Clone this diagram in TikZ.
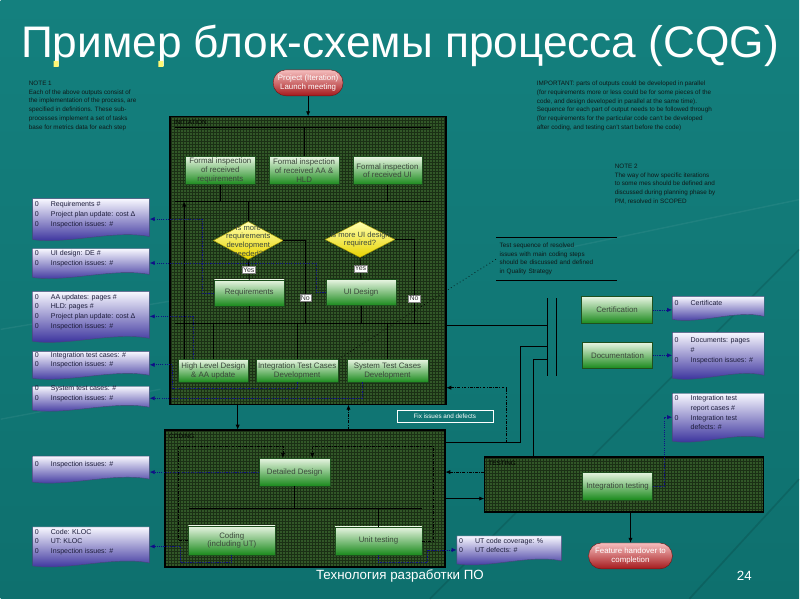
\documentclass[tikz,border=0pt]{standalone}
\usepackage{fontspec}
\setmainfont{Liberation Sans}
\usetikzlibrary{arrows.meta,shapes.geometric,calc}
\definecolor{bgtop}{RGB}{20,128,126}
\definecolor{bgbot}{RGB}{14,112,110}
\definecolor{phfill}{RGB}{50,88,40}
\definecolor{gtop}{RGB}{232,245,226}
\definecolor{gbot}{RGB}{26,138,28}
\definecolor{gline}{RGB}{30,80,30}
\definecolor{gtext}{RGB}{60,72,60}
\definecolor{ptop}{RGB}{246,190,190}
\definecolor{pbot}{RGB}{165,25,28}
\definecolor{pline}{RGB}{110,20,20}
\definecolor{dtop}{RGB}{248,248,255}
\definecolor{dmid}{RGB}{180,180,232}
\definecolor{dbot}{RGB}{45,36,150}
\definecolor{dline}{RGB}{70,70,120}
\definecolor{dtxt}{RGB}{30,30,60}
\definecolor{ytop}{RGB}{255,255,175}
\definecolor{ybot}{RGB}{232,212,0}
\definecolor{ydraw}{RGB}{150,140,0}
\definecolor{navyc}{RGB}{15,15,135}
\definecolor{notec}{RGB}{15,25,25}
\tikzset{
  wh/.style 2 args={minimum width={(#1)*0.025cm},minimum height={(#2)*0.025cm}},
  gbox/.style={rectangle,draw=gline,line width=.3pt,top color=gtop,bottom color=gbot,text=gtext,font=\fontsize{5.6}{6.3}\selectfont,align=center,inner sep=1pt},
  pill/.style={rectangle,rounded corners=.32cm,draw=pline,line width=.3pt,top color=ptop,bottom color=pbot,text=white,font=\fontsize{5.6}{6.6}\selectfont,align=center,inner sep=1pt},
  phase/.style={rectangle,draw=black,line width=.8pt,fill=phfill,inner sep=0},
  phlabel/.style={font=\fontsize{4.5}{5}\selectfont,text=black,inner sep=0,anchor=north west},
  barn/.style={inner sep=0,minimum height=0pt},
  barl/.style={draw=black,line width=.7pt},
  flow/.style={draw=black,line width=.55pt},
  arr/.style={-{Latex[length=3.5pt,width=3pt]}},
  dd/.style={draw=black,line width=.5pt,dash pattern=on 2pt off 1pt on .5pt off 1pt},
  nav/.style={draw=navyc,line width=.5pt,dash pattern=on .8pt off .8pt,-{Latex[length=3.5pt,width=3pt]}},
  yn/.style={fill=white,draw=gray,line width=.2pt,font=\fontsize{5}{5}\selectfont,inner sep=.8pt,text=black!80},
  doctext/.style={font=\fontsize{5}{6.9}\selectfont,align=left,inner sep=0,text=dtxt},
  note/.style={font=\fontsize{4.5}{6.2}\selectfont,align=left,inner sep=0,text=notec},
  dtxt2/.style={font=\fontsize{5.4}{6.2}\selectfont,align=center,text=gtext,inner sep=0}
}
\newcommand\itm[1]{\makebox[11.4pt][l]{0}#1}
\newcommand\docbox[6]{%
  \shadedraw[top color=dtop,middle color=dmid,bottom color=dbot,draw=dline,line width=.3pt]
    (#2,#3) -- (#4,#3) -- (#4,#5-3) .. controls ({#4-0.3*(#4-#2)},{#5-10}) and ({#2+0.3*(#4-#2)},{#5+5}) .. (#2,#5) -- cycle;
  \node[inner sep=0,wh={#4-#2}{#5-#3}] (#1) at ({(#2+#4)/2},{(#3+#5)/2}) {};
  \node[doctext,anchor=west] (#1t) at ({#2+2},{(#3+#5-9)/2}) {#6};
}
\begin{document}
\begin{tikzpicture}[x=0.025cm,y=-0.025cm]
% background
\shade[top color=bgtop,bottom color=bgbot] (0,0) rectangle (800,600);
\draw[black,opacity=.12,line width=1.2pt] (590,460) -- (800,250) (690,600) -- (800,480) (430,600) -- (560,470);
\draw[white,opacity=.06,line width=1pt] (0,330) -- (180,300) (0,420) -- (160,390) (560,250) -- (800,200);
% title and footer
\node[font=\fontsize{31.5}{36}\selectfont,text=white] (title) at (400,46) {Пример блок-схемы процесса (CQG)};
\fill[yellow!55] (53,61) rectangle (58,67) (158,61) rectangle (163,67);
\node[font=\fontsize{9.5}{11}\selectfont,text=white] (foot) at (400,577) {Технология разработки ПО};
\node[font=\fontsize{9.5}{11}\selectfont,text=white] (pgnum) at (745,577) {24};
% notes
\node[note,anchor=north west] (note1) at (28,81) {NOTE 1\\Each of the above outputs consist of\\the implementation of the process, are\\specified in definitions. These sub-\\processes implement a set of tasks\\base for metrics data for each step};
\node[note,anchor=north west] (noteimp) at (537,81) {IMPORTANT: parts of outputs could be developed in parallel\\(for requirements more or less could be for some pieces of the\\code, and design developed in parallel at the same time).\\Sequence for each part of output needs to be followed through\\(for requirements for the particular code can't be developed\\after coding, and testing can't start before the code)};
\node[note,anchor=north west] (note2) at (615,164) {NOTE 2\\The way of how specific iterations\\to some mes should be defined and\\discussed during planning phase by\\PM, resolved in SCOPED};
\node[note,text width=2.85cm,inner xsep=0.075cm,minimum height=1.075cm] (note3) at (557,259.5) {Test sequence of resolved\\issues with main coding steps\\should be discussed and defined\\in Quality Strategy};
\draw[black,line width=.5pt] (note3.north west) -- (note3.north east) (note3.south west) -- (note3.south east);
% phases
\node[phase,wh={276}{288}] (ph1) at (308,261) {};
\node[phase,wh={280}{137}] (ph2) at (305,499.5) {};
\node[phase,wh={279}{55}] (tst) at (624.5,485.5) {};
\foreach \p in {ph1,ph2,tst}{
  \draw[black,opacity=.45,line width=.2pt,step=0.075cm] (\p.north west) grid (\p.south east);
  \draw[black,line width=.8pt] (\p.north west) rectangle (\p.south east);
}
\node[phlabel] (ph1l) at ($(ph1.north west)+(4,4)$) {INITIATION};
\node[phlabel] (ph2l) at ($(ph2.north west)+(4,4)$) {CODING};
\node[phlabel] (tstl) at ($(tst.north west)+(4,4)$) {TESTING};
% pills
\node[pill,wh={70}{26}] (launch) at (308,83) {Project (Iteration)\\Launch meeting};
\node[pill,wh={84}{26}] (feature) at (631,557) {Feature handover to\\completion};
% bars
\node[barn,wh={256}{0}] (b0) at (303,128) {};
\node[barn,wh={256}{0}] (b1) at (303,202) {};
\node[barn,wh={255}{0}] (b2) at (302.5,324) {};
\node[barn,wh={233}{0}] (b3) at (305.5,509) {};
\foreach \b in {b0,b1,b2,b3}{\draw[barl] (\b.west) -- (\b.east);}
\node[inner sep=0,wh={9}{77}] (fork) at (552.5,337.5) {};
\draw[flow,line width=.7pt] (fork.north west) -- (fork.south west) (fork.north east) -- (fork.south east);
% boxes phase 1
\node[gbox,wh={70}{28}] (insp1) at (220,171) {Formal inspection\\of received\\requirements};
\node[gbox,wh={70}{28}] (insp2) at (304,171) {Formal inspection\\of received AA \&\\HLD};
\node[gbox,wh={69}{28}] (insp3) at (387.5,171) {Formal inspection\\of received UI};
\node[diamond,draw=ydraw,line width=.3pt,top color=ytop,bottom color=ybot,wh={70}{38},inner sep=0] (d1) at (248,241) {};
\node[dtxt2] (d1t) at (d1) {Is more\\requirements\\development\\needed?};
\node[diamond,draw=ydraw,line width=.3pt,top color=ytop,bottom color=ybot,wh={70}{36},inner sep=0] (d2) at (360,240) {};
\node[dtxt2] (d2t) at (d2) {Is more UI design\\required?};
\node[gbox,wh={70}{26}] (req) at (249,293.5) {Requirements};
\node[gbox,wh={70}{26}] (ui) at (361,293) {UI Design};
\node[gbox,wh={70}{23}] (hld) at (213,371.5) {High Level Design\\\& AA update};
\node[gbox,wh={82}{23}] (itc) at (297,371.5) {Integration Test Cases\\Development};
\node[gbox,wh={81}{23}] (stc) at (387.5,371.5) {System Test Cases\\Development};
% boxes phase 2 and testing
\node[gbox,wh={71}{28}] (dd) at (294.5,473) {Detailed Design};
\node[gbox,wh={87}{29}] (coding) at (231.5,541.5) {Coding\\(including UT)};
\node[gbox,wh={87}{28}] (ut) at (378.5,542) {Unit testing};
\node[gbox,wh={70}{28}] (integ) at (618,487) {Integration testing};
\node[gbox,wh={71}{27}] (cert) at (617.5,310.5) {Certification};
\node[gbox,wh={70}{26}] (docu) at (618,356) {Documentation};
% documents
\docbox{doc1}{32}{199}{149}{240}{\itm{Requirements \#}\\\itm{Project plan update: cost Δ}\\\itm{Inspection issues: \#}}
\docbox{doc2}{32}{249}{149}{278}{\itm{UI design: DE \#}\\\itm{Inspection issues: \#}}
\docbox{doc3}{32}{292}{149}{342}{\itm{AA updates: pages \#}\\\itm{HLD: pages \#}\\\itm{Project plan update: cost Δ}\\\itm{Inspection issues: \#}}
\docbox{doc4}{32}{352}{149}{379}{\itm{Integration test cases: \#}\\\itm{Inspection issues: \#}}
\docbox{doc5}{32}{387}{149}{411}{\itm{System test cases: \#}\\\itm{Inspection issues: \#}}
\docbox{doc6}{32}{457}{149}{483}{\itm{Inspection issues: \#}}
\docbox{doc7}{32}{528}{149}{567}{\itm{Code: KLOC}\\\itm{UT: KLOC}\\\itm{Inspection issues: \#}}
\docbox{utdoc}{457}{537}{562}{565}{\itm{UT code coverage: \%}\\\itm{UT defects: \#}}
\docbox{certdoc}{673}{297}{765}{320}{\itm{Certificate}}
\docbox{docdoc}{673}{333}{765}{379}{\itm{Documents: pages}\\\hspace*{11.4pt}\#\\\itm{Inspection issues: \#}}
\docbox{idoc}{673}{394}{765}{442}{\itm{Integration test}\\\hspace*{11.4pt}report cases \#\\\itm{Integration test}\\\hspace*{11.4pt}defects: \#}
% fix label
\node[draw=white!60,line width=.3pt,wh={96}{12},font=\fontsize{4.5}{5}\selectfont,text=white!75,inner sep=1pt] (fix) at (445,417) {Fix issues and defects};
% phase 1 flow
\draw[flow,arr] (launch.south) -- (ph1.north);
\draw[flow] (b0.center -| insp2.north) -- (insp2.north);
\draw[flow] (insp1.south) -- (insp1.south |- b1.center);
\draw[flow] (insp3.south) -- (insp3.south |- b1.center);
\draw[flow] (b1.center -| d1.north) -- (d1.north);
\draw[flow] (d1.south) -- node[yn]{Yes} (req.north);
\draw[flow] (d2.south) -- node[yn]{Yes} (ui.north);
\draw[flow] (d1.east) -- ++(22,0) coordinate (n1) -- (n1 |- b2.center) node[yn,pos=.69]{No};
\draw[flow] (d2.east) -- ++(19,0) coordinate (n2) -- (n2 |- b2.center) node[yn,pos=.7]{No};
\draw[flow] (req.south) -- (req.south |- b2.center);
\draw[flow] (ui.south) -- (ui.south |- b2.center);
\draw[flow] (b2.center -| hld.north) -- (hld.north);
\draw[flow] (b2.center -| itc.north) -- (itc.north);
\draw[flow] (b2.center -| stc.north) -- (stc.north);
\draw[flow,arr] ($(hld.north west)+(6,0)$) coordinate (hb) -- (hb |- b1.center);
% phase 1 outputs
\draw[nav] (req.west) -- ++(-12,0) |- (doc1.east);
\draw[nav] (ui.west) -- ++(-10,0) |- (doc2.east);
\draw[nav] ($(hld.north west)+(15,0)$) |- (doc3.east);
\draw[nav] (itc.south) |- ($(doc4.east)+(23,24)$) |- (doc4.east);
\draw[nav] ($(stc.south)+(-25,0)$) |- (doc5.east);
\draw[black,dotted,line width=.5pt] (itc.north east) -- (note3.west);
% between phases
\draw[flow,arr] ($(ph1.south west)+(68,0)$) coordinate (pa) -- (pa |- ph2.north);
\draw[dd,arr] ($(ph2.north west)+(184,0)$) coordinate (pb) -- (pb |- ph1.south);
\draw[flow] ($(ph1.north east)+(0,210)$) coordinate (f1) -- (f1 -| fork.west);
\draw[flow] ($(fork.north west)+(0,61)$) -- ++(-14,0) coordinate (f3) -- (f3 |- tst.north);
\draw[flow] ($(ph2.north east)+(0,13)$) -- ++(75,0) |- ($(fork.north west)+(0,48)$);
\draw[dd,arr] ($(ph2.north east)+(61,13)$) |- ($(ph1.north east)+(0,272)$);
\draw[dd,arr] (tst.west |- dd) -- (ph2.east |- dd);
\draw[flow,arr] (ph2.east) -- (ph2.east -| tst.west);
\draw[flow,arr] (tst.south -| feature.north) -- (feature.north);
% coding phase
\draw[flow] (dd.south) -- (dd.south |- b3.center);
\draw[flow] (b3.center -| ut.north) -- (ut.north);
\draw[dd,arr] (coding.west) -- ++(-10,0) |- ($(dd.north west)+(24,-12)$) -- ($(dd.north west)+(24,0)$);
\draw[dd,arr] (ut.east) -- ++(11,0) |- ($(dd.north east)+(-18,-12)$) -- ($(dd.north east)+(-18,0)$);
\draw[nav] (dd.west) -- (dd.west -| doc6.east);
\draw[nav] (coding.south) -- ++(0,7) -| ($(doc7.east)+(31,0)$) -- (doc7.east);
\draw[nav] (ut.south) -- ++(0,7) -| ($(utdoc.west)+(-29,0)$) -- (utdoc.west);
% right outputs
\draw[nav] (cert.east) -- (cert.east -| certdoc.west);
\draw[nav] (docu.east) -- (docu.east -| docdoc.west);
\draw[nav] (integ.east) -- ++(12,0) |- (idoc.west);
\end{tikzpicture}
\end{document}
